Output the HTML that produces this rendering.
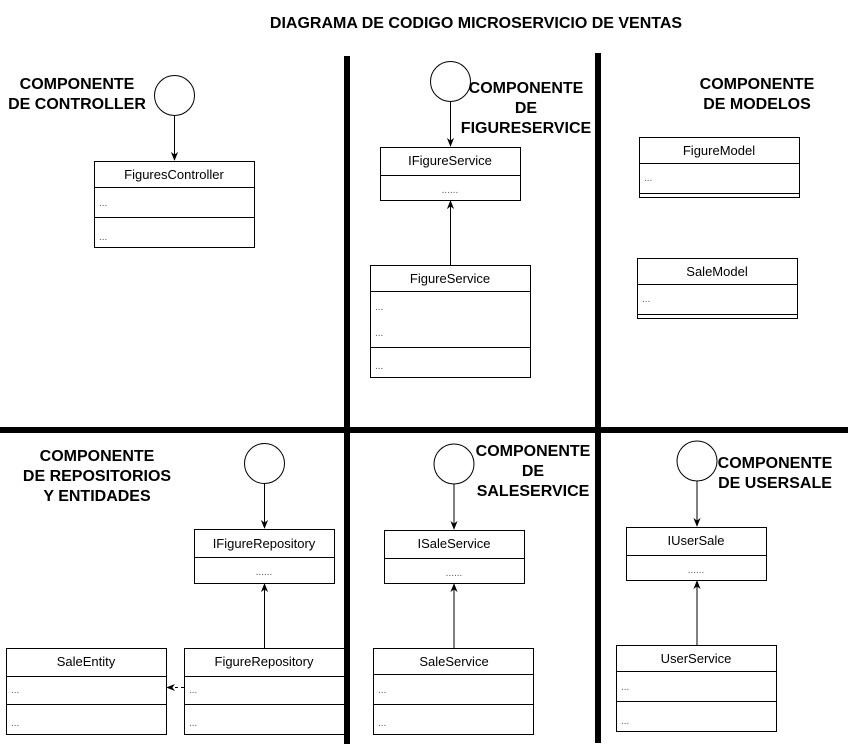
<!DOCTYPE html>
<html><head><meta charset="utf-8"><style>
html,body{margin:0;padding:0;background:#fff;}
svg{display:block;}
text{font-family:"Liberation Sans",Arial,sans-serif;fill:#000;}
.t{font-size:13px;}
.d{font-size:10px;fill:#555;}
.h{font-size:16px;font-weight:bold;}
</style></head><body>
<svg width="848" height="744" viewBox="0 0 848 744" xmlns="http://www.w3.org/2000/svg">
<defs>
<marker id="a" viewBox="0 0 10 10" refX="9" refY="5" markerWidth="9" markerHeight="9" markerUnits="userSpaceOnUse" orient="auto"><path d="M0,1 L10,5 L0,9 L3,5 Z" fill="#000"/></marker>
</defs>
<g fill="none" stroke="#000" stroke-width="1">
<rect x="94.5" y="161.5" width="160" height="86"/><line x1="94" y1="187.5" x2="254" y2="187.5"/><line x1="94" y1="217.5" x2="254" y2="217.5"/>
<circle cx="174.5" cy="95.5" r="20"/><line x1="174.5" y1="116" x2="174.5" y2="160" marker-end="url(#a)"/>
<rect x="380.5" y="147.5" width="140" height="53"/><line x1="380" y1="175.5" x2="520" y2="175.5"/>
<circle cx="450.5" cy="81.5" r="20"/><line x1="450.5" y1="102" x2="450.5" y2="146" marker-end="url(#a)"/>
<rect x="370.5" y="265.5" width="160" height="112"/><line x1="370" y1="291.5" x2="530" y2="291.5"/><line x1="370" y1="347.5" x2="530" y2="347.5"/>
<line x1="450.5" y1="265" x2="450.5" y2="201" marker-end="url(#a)"/>
<rect x="639.5" y="137.5" width="160" height="60"/><line x1="639" y1="163.5" x2="799" y2="163.5"/><line x1="639" y1="193.5" x2="799" y2="193.5"/>
<rect x="637.5" y="258.5" width="160" height="60"/><line x1="637" y1="284.5" x2="797" y2="284.5"/><line x1="637" y1="314.5" x2="797" y2="314.5"/>
<rect x="194.5" y="529.5" width="140" height="54"/><line x1="194" y1="557.5" x2="334" y2="557.5"/>
<circle cx="264.5" cy="463.5" r="20"/><line x1="264.5" y1="484" x2="264.5" y2="528" marker-end="url(#a)"/>
<rect x="184.5" y="648.5" width="162" height="86"/><line x1="184" y1="676.5" x2="346" y2="676.5"/><line x1="184" y1="704.5" x2="346" y2="704.5"/>
<line x1="264.5" y1="648" x2="264.5" y2="584" marker-end="url(#a)"/>
<rect x="6.5" y="648.5" width="160" height="86"/><line x1="6" y1="676.5" x2="166" y2="676.5"/><line x1="6" y1="704.5" x2="166" y2="704.5"/>
<line x1="184" y1="687.5" x2="167" y2="687.5" stroke-dasharray="3,3" marker-end="url(#a)"/>
<rect x="384.5" y="530.5" width="140" height="53"/><line x1="384" y1="558.5" x2="524" y2="558.5"/>
<circle cx="454" cy="464" r="20"/><line x1="454" y1="484" x2="454" y2="529" marker-end="url(#a)"/>
<rect x="373.5" y="648.5" width="160" height="86"/><line x1="373" y1="674.5" x2="533" y2="674.5"/><line x1="373" y1="704.5" x2="533" y2="704.5"/>
<line x1="454" y1="648" x2="454" y2="584" marker-end="url(#a)"/>
<rect x="626.5" y="527.5" width="140" height="53"/><line x1="626" y1="555.5" x2="766" y2="555.5"/>
<circle cx="697" cy="461" r="20"/><line x1="697" y1="481" x2="697" y2="526" marker-end="url(#a)"/>
<rect x="616.5" y="645.5" width="160" height="86"/><line x1="616" y1="671.5" x2="776" y2="671.5"/><line x1="616" y1="701.5" x2="776" y2="701.5"/>
<line x1="697" y1="645" x2="697" y2="581" marker-end="url(#a)"/>
</g>
<rect x="344" y="56" width="6" height="688" fill="#000"/>
<rect x="595" y="53" width="6" height="690" fill="#000"/>
<rect x="0" y="427" width="848" height="6" fill="#000"/>

<text class="h" x="476" y="28" text-anchor="middle">DIAGRAMA DE CODIGO MICROSERVICIO DE VENTAS</text>
<text class="h" x="77" y="89" text-anchor="middle">COMPONENTE</text>
<text class="h" x="77" y="109" text-anchor="middle">DE CONTROLLER</text>
<text class="h" x="526" y="93" text-anchor="middle">COMPONENTE</text>
<text class="h" x="526" y="113" text-anchor="middle">DE</text>
<text class="h" x="526" y="133" text-anchor="middle">FIGURESERVICE</text>
<text class="h" x="757" y="89" text-anchor="middle">COMPONENTE</text>
<text class="h" x="757" y="109" text-anchor="middle">DE MODELOS</text>
<text class="h" x="97" y="461" text-anchor="middle">COMPONENTE</text>
<text class="h" x="97" y="481" text-anchor="middle">DE REPOSITORIOS</text>
<text class="h" x="97" y="501" text-anchor="middle">Y ENTIDADES</text>
<text class="h" x="533" y="456" text-anchor="middle">COMPONENTE</text>
<text class="h" x="533" y="476" text-anchor="middle">DE</text>
<text class="h" x="533" y="496" text-anchor="middle">SALESERVICE</text>
<text class="h" x="775" y="468" text-anchor="middle">COMPONENTE</text>
<text class="h" x="775" y="488" text-anchor="middle">DE USERSALE</text>

<text class="t" x="174" y="179" text-anchor="middle">FiguresController</text>
<text class="d" x="99" y="206">...</text><text class="d" x="99" y="240">...</text>
<text class="t" x="450" y="165" text-anchor="middle">IFigureService</text>
<text class="d" x="450" y="193" text-anchor="middle">......</text>
<text class="t" x="450" y="283" text-anchor="middle">FigureService</text>
<text class="d" x="375" y="310">...</text><text class="d" x="375" y="336">...</text><text class="d" x="375" y="369">...</text>
<text class="t" x="719" y="155" text-anchor="middle">FigureModel</text>
<text class="d" x="644" y="181">...</text>
<text class="t" x="717" y="276" text-anchor="middle">SaleModel</text>
<text class="d" x="642" y="302">...</text>
<text class="t" x="264" y="548" text-anchor="middle">IFigureRepository</text>
<text class="d" x="264" y="575" text-anchor="middle">......</text>
<text class="t" x="264" y="666" text-anchor="middle">FigureRepository</text>
<text class="d" x="189" y="693">...</text><text class="d" x="189" y="726">...</text>
<text class="t" x="86" y="666" text-anchor="middle">SaleEntity</text>
<text class="d" x="11" y="693">...</text><text class="d" x="11" y="726">...</text>
<text class="t" x="454" y="548" text-anchor="middle">ISaleService</text>
<text class="d" x="454" y="576" text-anchor="middle">......</text>
<text class="t" x="454" y="666" text-anchor="middle">SaleService</text>
<text class="d" x="378" y="693">...</text><text class="d" x="378" y="726">...</text>
<text class="t" x="696" y="545" text-anchor="middle">IUserSale</text>
<text class="d" x="696" y="573" text-anchor="middle">......</text>
<text class="t" x="696" y="663" text-anchor="middle">UserService</text>
<text class="d" x="621" y="690">...</text><text class="d" x="621" y="724">...</text>
</svg>
</body></html>
